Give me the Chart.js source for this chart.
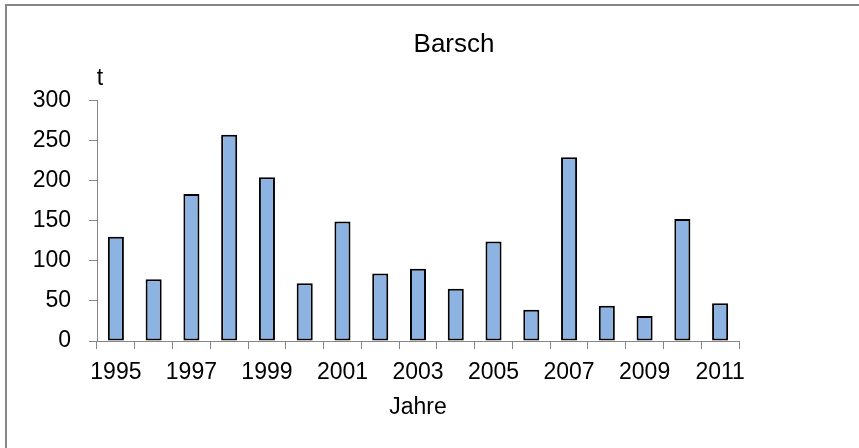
<!DOCTYPE html>
<html>
<head>
<meta charset="utf-8">
<script src="https://cdn.jsdelivr.net/npm/chart.js@4/dist/chart.umd.min.js"></script>
<style>
  html, body { margin: 0; padding: 0; background: #ffffff; }
  #wrap { width: 859px; height: 448px; position: relative; }
</style>
</head>
<body>
<div id="wrap"><canvas id="c" width="859" height="448"></canvas></div>
<script>
const years = ['1995','1996','1997','1998','1999','2000','2001','2002','2003','2004','2005','2006','2007','2008','2009','2010','2011'];
const barsch = [130, 77, 183, 257, 204, 72, 149, 84, 90, 65, 124, 39, 229, 44, 31, 152, 47];
const yTicks = [0, 50, 100, 150, 200, 250, 300];
const titleText = 'Barsch';
const yUnit = 't';
const xTitle = 'Jahre';

const FONT = "'Liberation Sans', Arial, sans-serif";
const AXIS = '#868686';

const framePlugin = {
  id: 'frame',
  beforeDraw(chart) {
    const ctx = chart.ctx;
    ctx.save();
    ctx.fillStyle = '#ffffff';
    ctx.fillRect(0, 0, chart.width, chart.height);
    ctx.strokeStyle = AXIS;
    ctx.lineWidth = 2;
    ctx.strokeRect(6, 5, chart.width + 20, chart.height + 20);
    ctx.restore();
  },
  afterLayout(chart) {
    const tb = chart.titleBlock;
    if (tb) {
      const shift = 454 - (tb.left + tb.right) / 2;
      tb.left += shift;
      tb.right += shift;
    }
  },
  afterDraw(chart) {
    const ctx = chart.ctx;
    const y = chart.scales.y;
    ctx.save();
    ctx.fillStyle = '#000000';
    ctx.font = '23px ' + FONT;
    ctx.textAlign = 'center';
    ctx.textBaseline = 'middle';
    ctx.fillText(yUnit, y.right + 3, y.top - 22);
    ctx.restore();
  }
};

new Chart(document.getElementById('c'), {
  type: 'bar',
  data: {
    labels: years,
    datasets: [{
      label: titleText,
      data: barsch,
      backgroundColor: '#8DB3E2',
      borderColor: '#000000',
      borderWidth: 2,
      borderSkipped: false,
      barPercentage: 0.85,
      categoryPercentage: 0.5
    }]
  },
  options: {
    responsive: false,
    animation: false,
    layout: { padding: { left: 32, right: 120, top: 0, bottom: 0 } },
    plugins: {
      legend: { display: false },
      tooltip: { enabled: false },
      title: {
        display: true,
        text: titleText,
        color: '#000000',
        font: { family: FONT, size: 26, weight: 'normal', lineHeight: 1.2 },
        padding: { top: 29, bottom: 40 }
      }
    },
    scales: {
      x: {
        offset: true,
        grid: {
          offset: true,
          drawOnChartArea: false,
          drawTicks: true,
          tickLength: 8,
          tickColor: AXIS,
          color: AXIS
        },
        border: { display: true, color: AXIS, width: 1 },
        ticks: {
          autoSkip: false,
          maxRotation: 0,
          minRotation: 0,
          padding: 10,
          color: '#000000',
          font: { family: FONT, size: 23 },
          callback: function(v, i) { return i % 2 === 0 ? years[i] : ''; }
        },
        title: {
          display: true,
          text: xTitle,
          color: '#000000',
          font: { family: FONT, size: 23, lineHeight: 1.2 },
          padding: { top: 0, bottom: 27 }
        },
        afterFit(scale) { scale.height = 107; }
      },
      y: {
        min: 0,
        max: 300,
        afterBuildTicks(scale) { scale.ticks = yTicks.map(v => ({ value: v })); },
        grid: {
          drawOnChartArea: false,
          drawTicks: true,
          tickLength: 8,
          tickColor: AXIS,
          color: AXIS
        },
        border: { display: true, color: AXIS, width: 1 },
        ticks: {
          padding: 18,
          color: '#000000',
          font: { family: FONT, size: 23 }
        },
        afterFit(scale) { scale.width = 65; }
      }
    }
  },
  plugins: [framePlugin]
});
</script>
</body>
</html>
